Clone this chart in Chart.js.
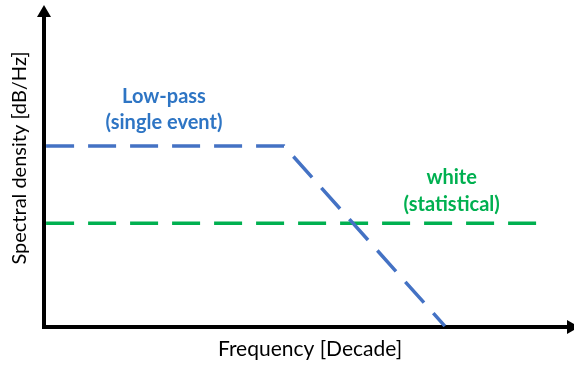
<!DOCTYPE html>
<html>
<head>
<meta charset="utf-8">
<script src="https://cdn.jsdelivr.net/npm/chart.js@4.4.0/dist/chart.umd.min.js"></script>
<style>
  html, body { margin: 0; padding: 0; background: #fff; }
  #wrap { width: 574px; height: 365px; }
</style>
</head>
<body>
<div id="wrap"><canvas id="spectrum"></canvas></div>
<script>
// frequency axis in decades, density in arbitrary dB units
const lowPassX = [0.04, 4.58, 7.65];
const lowPassY = [5.82, 5.82, 0.03];
const whiteX = [0.04, 9.64];
const whiteY = [3.34, 3.34];

const labels = {
  lowPass: ['Low-pass', '(single event)'],
  white: ['white', '(statistical)']
};
const xTitle = 'Frequency [Decade]';
const yTitle = 'Spectral density [dB/Hz]';

const BLUE_LINE = '#4472C4';
const BLUE_TEXT = '#2E75C4';
const GREEN = '#00B050';
const FONT = 'Lato, "Open Sans", sans-serif';

function toPoints(xs, ys) {
  return xs.map((x, i) => ({ x: x, y: ys[i] }));
}

// arrows, axis titles and curve labels
const decor = {
  id: 'decor',
  afterDraw(chart) {
    const c = chart.ctx;
    const a = chart.chartArea;
    const xs = chart.scales.x, ys = chart.scales.y;
    c.save();
    c.fillStyle = '#000';
    // y arrow
    c.beginPath();
    c.moveTo(a.left - 7, a.top + 1);
    c.lineTo(a.left + 7, a.top + 1);
    c.lineTo(a.left, a.top - 11);
    c.closePath();
    c.fill();
    // x arrow
    c.beginPath();
    c.moveTo(a.right - 1, a.bottom - 7);
    c.lineTo(a.right - 1, a.bottom + 7);
    c.lineTo(a.right + 11, a.bottom);
    c.closePath();
    c.fill();

    c.fillStyle = '#000';
    c.font = '21px ' + FONT;
    c.textAlign = 'center';
    c.textBaseline = 'middle';
    c.fillText(xTitle, 310, 349);
    c.save();
    c.font = '20px ' + FONT;
    c.translate(20, 158);
    c.rotate(-Math.PI / 2);
    c.fillText(yTitle, 0, 0);
    c.restore();

    c.font = 'bold 20px ' + FONT;
    c.fillStyle = BLUE_TEXT;
    c.fillText(labels.lowPass[0], xs.getPixelForValue(2.29), ys.getPixelForValue(7.4));
    c.fillText(labels.lowPass[1], xs.getPixelForValue(2.29), ys.getPixelForValue(6.56));
    c.fillStyle = GREEN;
    c.fillText(labels.white[0], xs.getPixelForValue(7.78), ys.getPixelForValue(4.82));
    c.fillText(labels.white[1], xs.getPixelForValue(7.78), ys.getPixelForValue(3.95));
    c.restore();
  }
};

const ctx = document.getElementById('spectrum').getContext('2d');
const spectrumChart = new Chart(ctx, {
  type: 'line',
  data: {
    datasets: [{
      label: 'Low-pass',
      data: toPoints(lowPassX, lowPassY),
      borderColor: BLUE_LINE,
      borderWidth: 3.5,
      borderDash: [28, 14],
      pointRadius: 0,
      fill: false
    }, {
      label: 'white',
      data: toPoints(whiteX, whiteY),
      borderColor: GREEN,
      borderWidth: 3.5,
      borderDash: [28, 14],
      pointRadius: 0,
      fill: false
    }]
  },
  options: {
    responsive: true,
    maintainAspectRatio: false,
    animation: false,
    layout: { padding: { left: 44, right: 6, top: 16, bottom: 38 } },
    plugins: { legend: { display: false }, tooltip: { enabled: false } },
    scales: {
      x: {
        type: 'linear', min: 0, max: 10,
        ticks: { display: false },
        grid: { display: false, drawTicks: false },
        border: { display: true, color: '#000', width: 4 }
      },
      y: {
        type: 'linear', min: 0, max: 10,
        ticks: { display: false },
        grid: { display: false, drawTicks: false },
        border: { display: true, color: '#000', width: 4 }
      }
    }
  },
  plugins: [decor]
});
</script>
</body>
</html>
